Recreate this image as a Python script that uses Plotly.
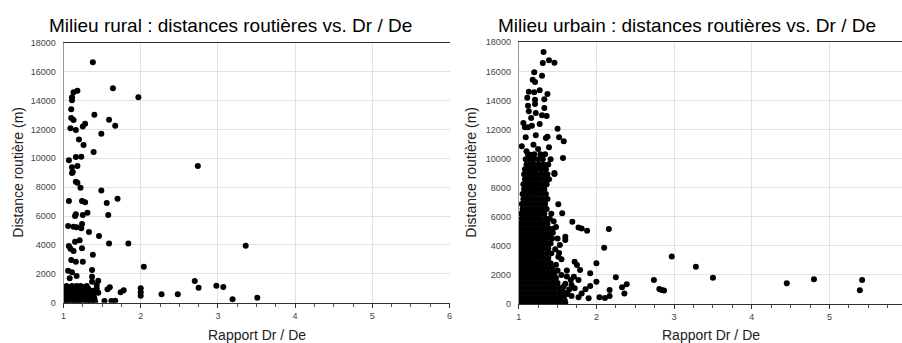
import plotly.graph_objects as go

# ---------------- data: rural ----------------
rural_x = [1.38, 1.64, 1.97, 1.13, 1.18, 1.11, 1.11, 1.10, 1.10, 1.13, 1.40, 1.59, 1.67,
           1.09, 1.16, 1.25, 1.28, 1.49, 1.20, 1.26, 1.39, 1.07, 1.16, 1.23, 1.11, 1.18, 2.74,
           1.12, 1.11, 1.16, 1.18, 1.22, 1.49, 1.07, 1.24, 1.28, 1.56, 1.70, 1.15, 1.16, 1.25,
           1.31, 1.58, 1.06, 1.13, 1.17, 1.24, 1.23, 1.33, 1.46, 1.15, 1.21, 1.59, 1.84, 1.07,
           1.09, 1.13, 1.24, 1.38, 1.10, 1.16, 1.25, 2.04, 1.06, 1.11, 1.37, 1.17, 1.08, 1.37,
           1.37, 1.45, 1.43, 1.04, 1.11, 1.17, 1.22, 1.30, 1.45, 1.57, 1.60, 1.74, 1.78, 2.00,
           2.00, 2.00, 2.27, 2.48, 2.70, 2.75, 2.98, 3.07, 1.53, 1.62, 1.67, 3.36, 3.19, 3.51,
           # dense low band
           1.02, 1.05, 1.03, 1.06, 1.02, 1.04, 1.07, 1.08, 1.09, 1.11, 1.08, 1.11, 1.10,
           1.13, 1.14, 1.16, 1.13, 1.15, 1.14, 1.18, 1.19, 1.21, 1.18, 1.21, 1.19,
           1.23, 1.24, 1.26, 1.23, 1.26, 1.25, 1.28, 1.30, 1.29, 1.31, 1.32,
           1.34, 1.35, 1.33, 1.36, 1.38, 1.39, 1.40, 1.41, 1.43, 1.44]
rural_y = [16640, 14840, 14220, 14570, 14680, 14220, 14010, 13390, 12790, 12650, 13020, 12670, 12250,
           12070, 11960, 12190, 12390, 11700, 11290, 10920, 10430, 9860, 10090, 10110, 9370, 9460, 9460,
           9050, 8980, 8380, 8310, 7960, 7760, 7040, 7040, 6950, 6900, 7200, 6000, 6120, 6070,
           6230, 6070, 5310, 5260, 5220, 5450, 5150, 4900, 4620, 4220, 4320, 4090, 4090, 3930,
           3740, 3580, 3770, 3320, 2960, 2840, 2840, 2490, 2220, 2100, 2260, 1850, 1690, 1800,
           1450, 1520, 1250, 1160, 1160, 1160, 1160, 1160, 690, 930, 1070, 720, 860, 1000,
           720, 480, 580, 580, 1500, 1040, 1180, 1090, 120, 120, 140, 3950, 240, 350,
           880, 720, 520, 330, 170, 40, 1050, 930, 640, 420, 230, 70, 820,
           860, 690, 470, 290, 130, 980, 1000, 760, 560, 360, 190, 30,
           880, 640, 400, 260, 90, 1080, 780, 560, 330, 140, 980,
           660, 430, 210, 50, 820, 570, 310, 90, 1000, 730]

# ---------------- data: urban (sparse points) ----------------
urban_x = [1.32, 1.31, 1.39, 1.46, 1.20, 1.30, 1.18, 1.21, 1.13, 1.20, 1.27, 1.37, 1.11, 1.21, 1.33,
           1.12, 1.21, 1.33, 1.13, 1.22, 1.30, 1.36, 1.16, 1.06, 1.08, 1.12, 1.17, 1.27, 1.50,
           1.09, 1.22, 1.35, 1.37, 1.52, 1.58, 1.04, 1.19, 1.25, 1.39, 1.10, 1.15, 1.57, 1.46, 1.46,
           1.51, 1.56, 1.69, 1.77, 1.81, 1.88, 2.16, 2.10, 1.60, 1.60, 1.53, 1.47, 1.51, 1.55, 1.72, 1.75,
           1.79, 1.92, 2.00, 2.25, 2.39, 2.74, 2.81, 2.87, 2.84, 2.00, 1.92, 1.86, 1.81, 2.33, 2.36, 2.17,
           2.04, 2.11, 2.17, 1.77, 1.90, 1.68, 1.72, 1.68, 1.67, 1.71, 1.77, 1.56, 1.63, 1.52, 1.59,
           2.97, 3.28, 3.50, 4.45, 4.80, 5.39, 5.42,
           1.50, 1.55, 1.62, 1.60, 1.65, 1.58, 1.62, 1.48, 1.52, 1.42, 1.45, 1.48, 1.44, 1.50]
urban_y = [17330, 16580, 16760, 16600, 15940, 15700, 15430, 15270, 14600, 14560, 14700, 14440, 14190, 14050, 14080,
           13640, 13760, 13480, 13250, 13140, 12980, 12930, 12790, 12450, 12150, 12150, 12260, 12380, 12060,
           11470, 11600, 11420, 11510, 11470, 11190, 10850, 10960, 10660, 10780, 10500, 10270, 10040, 9010, 8940,
           6860, 6240, 5660, 5270, 5200, 5040, 5160, 3870, 4630, 4400, 4060, 3760, 3250, 3070, 2910, 2680,
           2340, 2110, 2800, 1840, 1350, 1650, 1030, 920, 960, 1530, 1240, 1010, 730, 1150, 730, 960,
           460, 410, 550, 460, 390, 550, 1080, 1310, 1650, 1880, 1650, 960, 690, 500, 280,
           3260, 2570, 1810, 1420, 1700, 940, 1650,
           2300, 2000, 1900, 1400, 1000, 1200, 2300, 2700, 3500, 6200, 5700, 5300, 4900, 4500]

# urban dense core: rows of (distance, list of Dr/De ratios)
urban_core_rows = [
    (100,   [1.00, 1.05, 1.10, 1.15, 1.20, 1.25, 1.30, 1.35, 1.40, 1.45, 1.50, 1.55, 1.60]),
    (420,   [1.02, 1.07, 1.12, 1.17, 1.22, 1.27, 1.32, 1.37, 1.42, 1.47, 1.53, 1.58]),
    (760,   [1.00, 1.05, 1.10, 1.15, 1.20, 1.25, 1.30, 1.35, 1.40, 1.45, 1.51, 1.56, 1.61]),
    (1100,  [1.02, 1.07, 1.12, 1.17, 1.22, 1.27, 1.32, 1.37, 1.42, 1.47, 1.53]),
    (1440,  [1.00, 1.05, 1.10, 1.15, 1.20, 1.25, 1.30, 1.35, 1.40, 1.45, 1.50]),
    (1780,  [1.02, 1.07, 1.12, 1.17, 1.22, 1.27, 1.32, 1.37, 1.43, 1.48]),
    (2120,  [1.00, 1.05, 1.10, 1.15, 1.20, 1.25, 1.30, 1.35, 1.40, 1.46]),
    (2460,  [1.02, 1.07, 1.12, 1.17, 1.22, 1.27, 1.32, 1.38, 1.43]),
    (2800,  [1.00, 1.05, 1.10, 1.15, 1.20, 1.25, 1.30, 1.35, 1.41]),
    (3140,  [1.02, 1.07, 1.12, 1.17, 1.22, 1.27, 1.33, 1.38]),
    (3480,  [1.00, 1.05, 1.10, 1.15, 1.20, 1.25, 1.30, 1.36, 1.42]),
    (3820,  [1.02, 1.07, 1.12, 1.17, 1.22, 1.27, 1.32, 1.38]),
    (4160,  [1.00, 1.05, 1.10, 1.15, 1.20, 1.25, 1.30, 1.35, 1.41]),
    (4500,  [1.02, 1.07, 1.12, 1.17, 1.22, 1.27, 1.32, 1.37, 1.43]),
    (4840,  [1.01, 1.06, 1.11, 1.16, 1.21, 1.26, 1.31, 1.36, 1.41]),
    (5180,  [1.03, 1.08, 1.13, 1.18, 1.23, 1.28, 1.33, 1.39, 1.44]),
    (5520,  [1.02, 1.07, 1.12, 1.17, 1.22, 1.27, 1.32, 1.37]),
    (5860,  [1.04, 1.09, 1.14, 1.19, 1.24, 1.29, 1.35, 1.40]),
    (6200,  [1.03, 1.08, 1.13, 1.18, 1.23, 1.28, 1.33]),
    (6540,  [1.05, 1.10, 1.15, 1.20, 1.25, 1.30, 1.36]),
    (6880,  [1.04, 1.09, 1.14, 1.19, 1.24, 1.29, 1.34]),
    (7220,  [1.06, 1.11, 1.16, 1.21, 1.26, 1.31, 1.37]),
    (7560,  [1.05, 1.10, 1.15, 1.20, 1.25, 1.30, 1.35]),
    (7900,  [1.07, 1.12, 1.17, 1.22, 1.27, 1.33]),
    (8240,  [1.06, 1.11, 1.16, 1.21, 1.26, 1.31, 1.36]),
    (8580,  [1.08, 1.13, 1.18, 1.23, 1.28, 1.34, 1.39]),
    (8920,  [1.07, 1.12, 1.17, 1.22, 1.27, 1.32, 1.37]),
    (9260,  [1.08, 1.13, 1.18, 1.23, 1.29, 1.35]),
    (9600,  [1.10, 1.15, 1.20, 1.26, 1.32, 1.38]),
    (9950,  [1.09, 1.14, 1.19, 1.25, 1.31, 1.41]),
    (10300, [1.12, 1.20, 1.28, 1.34]),
]

y_ticks = [0, 2000, 4000, 6000, 8000, 10000, 12000, 14000, 16000, 18000]
x_ticks_rural = [1, 2, 3, 4, 5, 6]
x_ticks_urban = [1, 2, 3, 4, 5]

title_rural = "Milieu rural : distances routières vs. Dr / De"
title_urban = "Milieu urbain : distances routières vs. Dr / De"
x_title = "Rapport Dr / De"
y_title = "Distance routière (m)"

# flatten core rows
core_x, core_y = [], []
for yy, xs in urban_core_rows:
    for xx in xs:
        core_x.append(xx)
        core_y.append(yy)

FONT = "Liberation Sans, Arial, sans-serif"
marker = dict(color="black", size=6, symbol="circle", line=dict(width=0))

fig = go.Figure()
fig.add_trace(go.Scatter(x=rural_x, y=rural_y, mode="markers", marker=marker,
                         xaxis="x", yaxis="y", showlegend=False, hoverinfo="skip"))
fig.add_trace(go.Scatter(x=urban_x + core_x, y=urban_y + core_y, mode="markers", marker=marker,
                         xaxis="x2", yaxis="y2", showlegend=False, hoverinfo="skip"))

W, H = 902, 343

def xaxis_cfg(dom, rng, ticks):
    return dict(domain=dom, range=rng, tickvals=ticks, ticktext=[str(t) for t in ticks],
                showgrid=True, gridcolor="#e2e2e2", gridwidth=1,
                showline=True, linecolor="#333333", linewidth=1, mirror=True,
                ticks="outside", ticklen=4, tickcolor="#333333",
                minor=dict(dtick=0.25, tick0=1, ticks="outside", ticklen=3, tickcolor="#555555",
                           showgrid=False),
                tickfont=dict(family=FONT, size=9, color="#444444"),
                zeroline=False, fixedrange=True, automargin=False)

def yaxis_cfg(dom, anchor):
    return dict(domain=dom, range=[0, 18000], tickvals=y_ticks, ticktext=[str(t) for t in y_ticks],
                showgrid=True, gridcolor="#e2e2e2", gridwidth=1,
                showline=True, linecolor="#999999", linewidth=1, mirror=False,
                ticks="", ticklabelstandoff=5,
                tickfont=dict(family=FONT, size=9, color="#444444"),
                zeroline=False, anchor=anchor, fixedrange=True, automargin=False)

fig.update_layout(
    width=W, height=H, margin=dict(l=0, r=0, t=0, b=0, pad=0, autoexpand=False),
    paper_bgcolor="white", plot_bgcolor="white",
    xaxis=xaxis_cfg([63.5 / W, 449.5 / W], [1, 6], x_ticks_rural) | dict(anchor="y"),
    yaxis=yaxis_cfg([1 - 302.7 / H, 1 - 42.7 / H], "x"),
    xaxis2=xaxis_cfg([518.7 / W, 1.0], [1, 5.933], x_ticks_urban) | dict(anchor="y2"),
    yaxis2=yaxis_cfg([1 - 304 / H, 1 - 42.3 / H], "x2"),
)

ann = [
    dict(text=title_rural, x=230 / W, y=1 - 25 / H, size=19, angle=0, color="black"),
    dict(text=title_urban, x=687 / W, y=1 - 25 / H, size=19, angle=0, color="black"),
    dict(text=x_title, x=257 / W, y=1 - 335 / H, size=14, angle=0, color="#222222"),
    dict(text=x_title, x=711 / W, y=1 - 335 / H, size=14, angle=0, color="#222222"),
    dict(text=y_title, x=18 / W, y=1 - 172.7 / H, size=14, angle=-90, color="#222222"),
    dict(text=y_title, x=471 / W, y=1 - 172.7 / H, size=14, angle=-90, color="#222222"),
]
for a in ann:
    fig.add_annotation(text=a["text"], x=a["x"], y=a["y"], xref="paper", yref="paper",
                       xanchor="center", yanchor="middle", showarrow=False, textangle=a["angle"],
                       font=dict(family=FONT, size=a["size"], color=a["color"]))

fig.write_html("out.html")
